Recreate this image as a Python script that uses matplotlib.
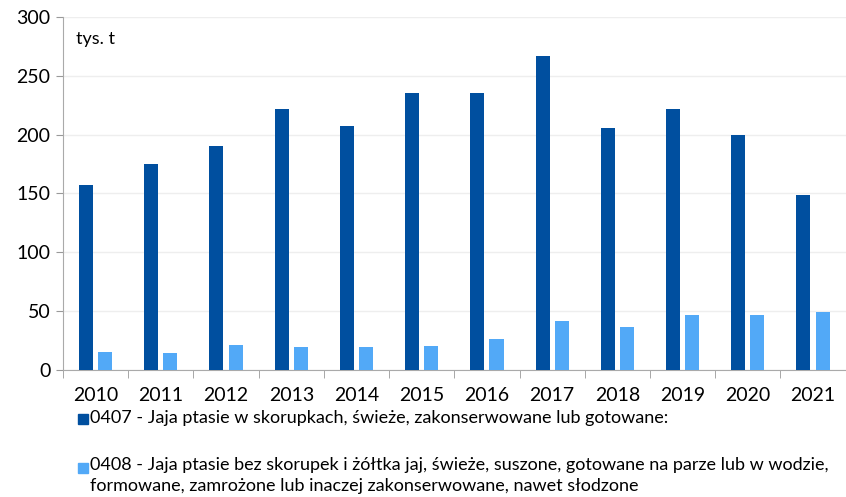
import numpy as np
import matplotlib.pyplot as plt
from matplotlib.patches import Rectangle

# Dane: eksport jaj (tys. t)
years = ['2010', '2011', '2012', '2013', '2014', '2015',
         '2016', '2017', '2018', '2019', '2020', '2021']
eggs_0407 = [157, 175, 190, 222, 207, 235, 235, 267, 206, 222, 200, 149]
eggs_0408 = [15, 14.5, 21, 19.5, 19.5, 20.5, 26.5, 42, 36.5, 46.5, 46.5, 49.5]

label_0407 = '0407 - Jaja ptasie w skorupkach, świeże, zakonserwowane lub gotowane:'
label_0408 = ('0408 - Jaja ptasie bez skorupek i żółtka jaj, świeże, suszone, gotowane na parze lub w wodzie,\n'
              'formowane, zamrożone lub inaczej zakonserwowane, nawet słodzone')

dark = '#004F9F'
light = '#52A9F7'
plt.rcParams['font.family'] = ['Lato', 'DejaVu Sans']

fig = plt.figure(figsize=(8.46, 4.97), dpi=100)
ax = fig.add_axes([0.0745, 0.2555, 0.925, 0.7105])

x = np.arange(len(years))
w = 0.215
ax.bar(x - 0.147, eggs_0407, width=w, color=dark, zorder=3)
ax.bar(x + 0.147, eggs_0408, width=w, color=light, zorder=3)

ax.set_xlim(-0.5, len(years) - 0.5)
ax.set_ylim(0, 300)
ax.set_yticks(range(0, 301, 50))
ax.set_xticks(x)
ax.set_xticklabels(years)
ax.set_xticks(np.arange(-0.5, len(years), 1), minor=True)
ax.tick_params(axis='x', which='major', length=0, pad=12, labelsize=14)
ax.tick_params(axis='x', which='minor', length=6, color='#999999')
ax.tick_params(axis='y', length=5, color='#999999', labelsize=14, pad=4)
ax.grid(axis='y', color='#eeeeee', linewidth=1, zorder=0)

for s in ['top', 'right']:
    ax.spines[s].set_visible(False)
ax.spines['left'].set_color('#aaaaaa')
ax.spines['bottom'].set_color('#aaaaaa')

ax.text(0.017, 0.96, 'tys. t', transform=ax.transAxes, fontsize=13, va='top')

# Legenda
fig.add_artist(Rectangle((78 / 846, 1 - 424 / 497), 10 / 846, 10 / 497,
                         transform=fig.transFigure, color=dark))
fig.text(90 / 846, 1 - 418 / 497, label_0407, fontsize=13, va='center')
fig.add_artist(Rectangle((78 / 846, 1 - 473 / 497), 10 / 846, 10 / 497,
                         transform=fig.transFigure, color=light))
fig.text(90 / 846, 1 - 457 / 497, label_0408, fontsize=13, va='top', linespacing=1.4)

fig.savefig('out.png', dpi=100)
